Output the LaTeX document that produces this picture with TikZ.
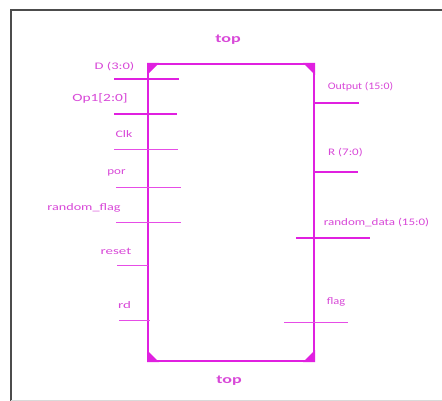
\documentclass[tikz,border=0pt]{standalone}
\usepackage{fontspec}
\setmainfont{Carlito}
\definecolor{mag}{HTML}{E020E0}
\definecolor{magtxt}{HTML}{D848D8}
\begin{document}
\begin{tikzpicture}[x=1pt,y=-1pt,
  pin/.style={draw=mag,line width=1.6pt},
  thinpin/.style={draw=mag!80,line width=0.9pt},
  lbl/.style={text=magtxt,font=\fontsize{10}{11}\selectfont,inner sep=0pt,xscale=1.3},
  toplbl/.style={text=magtxt,font=\bfseries\fontsize{12}{13}\selectfont,inner sep=0pt,xscale=1.5},
  corner/.style={fill=mag}]
\useasboundingbox (0,0) rectangle (442,401);
\fill[white] (0,0) rectangle (442,401);
% frame
\draw[line width=2.5pt,black!70] (11,401) -- (11,10) -- (442,10);
\draw[line width=0.8pt,black!15] (11,400) -- (442,400);
% box
\node[draw=mag,line width=2pt,minimum width=166pt,minimum height=297pt,inner sep=0pt,anchor=north west] (box) at (147,63) {};
\fill[corner] (box.north west) -- ++(12,0) -- ++(-12,12) -- cycle;
\fill[corner] (box.north east) -- ++(-12,0) -- ++(12,12) -- cycle;
\fill[corner] (box.south west) -- ++(12,0) -- ++(-12,-12) -- cycle;
\fill[corner] (box.south east) -- ++(-12,0) -- ++(12,-12) -- cycle;
% titles
\node[toplbl] (ttop) at (228,40) {top};
\node[toplbl] (tbot) at (229,381) {top};
% left pins
\coordinate (dA) at (114,79); \coordinate (dB) at (179,79);
\draw[pin] (dA) -- (dB);
\node[lbl,xscale=1.12] (lD) at (114.5,67) {D (3:0)};
\coordinate (oA) at (114,114); \coordinate (oB) at (177,114);
\draw[pin] (oA) -- (oB);
\node[lbl,xscale=1.08,font=\fontsize{11}{12}\selectfont] (lOp) at (100,98) {Op1[2:0]};
\coordinate (cA) at (114,149); \coordinate (cB) at (178,149);
\draw[thinpin] (cA) -- (cB);
\node[lbl,xscale=1.06] (lClk) at (124,134) {Clk};
\coordinate (pA) at (116,187); \coordinate (pB) at (181,187);
\draw[thinpin] (pA) -- (pB);
\node[lbl] (lpor) at (116.5,173) {por};
\coordinate (fA) at (116,222); \coordinate (fB) at (181,222);
\draw[thinpin] (fA) -- (fB);
\node[lbl,xscale=1.09] (lrf) at (84,208) {random\_flag};
\coordinate (rA) at (117,265); \coordinate (rB) at (148,265);
\draw[thinpin] (rA) -- (rB);
\node[lbl,xscale=1.15] (lreset) at (116,251) {reset};
\coordinate (rdA) at (119,320); \coordinate (rdB) at (150,320);
\draw[thinpin] (rdA) -- (rdB);
\node[lbl,xscale=1.15] (lrd) at (124.5,305) {rd};
% right pins
\coordinate (outA) at (313,103); \coordinate (outB) at (359,103);
\draw[pin] (outA) -- (outB);
\node[lbl,xscale=0.91] (lout) at (360.5,87) {Output (15:0)};
\coordinate (RA) at (313,172); \coordinate (RB) at (358,172);
\draw[pin] (RA) -- (RB);
\node[lbl] (lR) at (345.5,153) {R (7:0)};
\coordinate (rdaA) at (296,238); \coordinate (rdaB) at (370,238);
\draw[pin] (rdaA) -- (rdaB);
\node[lbl] (lrda) at (376.5,223) {random\_data (15:0)};
\coordinate (flA) at (284,322); \coordinate (flB) at (348,322);
\draw[thinpin] (flA) -- (flB);
\node[lbl,xscale=0.96] (lflag) at (336,302) {flag};
\end{tikzpicture}
\end{document}
